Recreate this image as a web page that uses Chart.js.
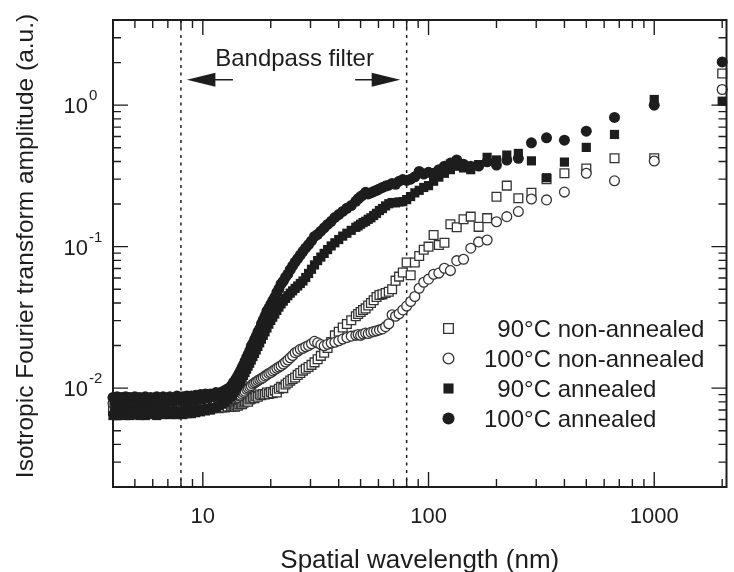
<!DOCTYPE html>
<html>
<head>
<meta charset="utf-8">
<script src="https://cdn.jsdelivr.net/npm/chart.js@4.4.1/dist/chart.umd.min.js"></script>
<style>
html,body{margin:0;padding:0;background:#fff;}
#wrap{width:734px;height:572px;position:relative;}
</style>
</head>
<body>
<div id="wrap"><canvas id="c" width="734" height="572"></canvas></div>
<script>
// ---------- data ----------
const wavelength = [
 4.00,4.08,4.17,4.26,4.35,4.44,4.55,4.65,4.76,4.88,5.00,5.13,5.26,5.41,5.56,5.71,5.88,6.06,6.25,6.45,6.67,6.90,7.14,7.41,7.69,8.00,
 8.16,8.33,8.51,8.70,8.89,9.09,9.30,9.52,9.76,10.0,10.26,10.53,10.81,11.11,11.43,11.76,12.12,12.50,12.90,13.33,
 13.51,13.70,13.89,14.08,14.29,14.49,14.71,14.93,15.15,15.38,15.63,15.87,16.13,16.39,16.67,16.95,17.24,17.54,17.86,18.18,18.52,18.87,19.23,19.61,20.00,20.41,20.83,21.28,21.74,22.22,22.73,23.26,23.81,24.39,25.00,
 25.64,26.32,27.03,27.78,28.57,29.41,30.30,31.25,32.26,33.33,34.48,35.71,37.04,38.46,40.00,41.67,43.48,45.45,47.62,
 48.78,50.00,51.28,52.63,54.05,55.56,57.14,58.82,60.61,62.50,64.52,66.67,68.97,71.43,74.07,76.92,80.00,83.33,86.96,90.91,95.24,
 100,105.3,111.1,117.6,125,133.3,142.9,153.8,166.7,181.8,200,222.2,250,285.7,333.3,400,500,666.7,1000,2000
];
const nonAnnealed90 = [
 0.0069,0.0070,0.0068,0.0070,0.0069,0.0071,0.0069,0.0070,0.0069,0.0070,0.0071,0.0069,0.0070,0.0070,0.0069,0.0071,0.0070,0.0070,0.0071,0.0070,0.0069,0.0071,0.0070,0.0071,0.0070,0.0071,
 0.0070,0.0071,0.0070,0.0071,0.0070,0.0071,0.0071,0.0070,0.0071,0.0071,0.0072,0.0071,0.0072,0.0072,0.0073,0.0072,0.0073,0.0073,0.0074,0.0074,
 0.0074,0.0075,0.0074,0.0076,0.0075,0.0077,0.0078,0.0077,0.0079,0.0080,0.0081,0.0080,0.0083,0.0084,0.0086,0.0085,0.0088,0.0087,0.0090,0.0089,0.0091,0.0090,0.0093,0.0091,0.0094,0.0092,0.0096,0.0093,0.0099,0.0102,0.0100,0.0106,0.0109,0.0113,0.0116,
 0.0119,0.0124,0.0128,0.0133,0.0137,0.0141,0.0146,0.0152,0.0160,0.0169,0.0178,0.0192,0.0212,0.0236,0.0250,0.0268,0.0284,0.0302,0.0322,
 0.0334,0.0345,0.0357,0.0366,0.0384,0.0400,0.0418,0.0440,0.0455,0.0460,0.0470,0.0480,0.0500,0.0575,0.0614,0.0656,0.0772,0.0627,0.0772,0.0860,0.0950,
 0.100,0.121,0.1028,0.1067,0.144,0.137,0.156,0.163,0.138,0.159,0.225,0.270,0.220,0.240,0.300,0.330,0.357,0.421,0.421,1.673
];
const nonAnnealed100 = [
 0.0078,0.0076,0.0077,0.0078,0.0076,0.0077,0.0078,0.0077,0.0076,0.0078,0.0077,0.0078,0.0076,0.0077,0.0078,0.0077,0.0078,0.0077,0.0076,0.0078,0.0077,0.0078,0.0077,0.0076,0.0078,0.0077,
 0.0077,0.0078,0.0077,0.0078,0.0077,0.0078,0.0078,0.0077,0.0078,0.0078,0.0079,0.0078,0.0079,0.0079,0.0080,0.0079,0.0080,0.0081,0.0080,0.0081,
 0.0082,0.0083,0.0084,0.0085,0.0086,0.0088,0.0089,0.0091,0.0093,0.0095,0.0098,0.0100,0.0102,0.0104,0.0107,0.0109,0.0111,0.0113,0.0115,0.0117,0.0119,0.0122,0.0124,0.0127,0.0129,0.0132,0.0135,0.0138,0.0141,0.0144,0.0148,0.0153,0.0158,0.0164,0.0170,
 0.0178,0.0182,0.0188,0.0191,0.0196,0.0200,0.0206,0.0214,0.0209,0.0203,0.0199,0.0204,0.0208,0.0211,0.0216,0.0222,0.0228,0.0233,0.0236,
 0.0239,0.0236,0.0241,0.0245,0.0243,0.0248,0.0251,0.0254,0.0258,0.0262,0.0272,0.0285,0.0330,0.0322,0.0335,0.0357,0.0380,0.0409,0.0444,0.0508,0.0560,
 0.0589,0.0638,0.0650,0.0704,0.0677,0.0796,0.0815,0.0975,0.108,0.1115,0.150,0.163,0.177,0.217,0.214,0.243,0.330,0.292,0.403,1.29
];
const annealed90 = [
 0.0064,0.0069,0.0064,0.0069,0.0065,0.0069,0.0064,0.0069,0.0064,0.0069,0.0065,0.0069,0.0064,0.0069,0.0064,0.0069,0.0065,0.0069,0.0064,0.0069,0.0065,0.0069,0.0065,0.0069,0.0065,0.0069,
 0.0065,0.0069,0.0066,0.0070,0.0066,0.0070,0.0067,0.0071,0.0068,0.0071,0.0069,0.0072,0.0070,0.0073,0.0073,0.0075,0.0077,0.0080,0.0083,0.0087,
 0.0089,0.0093,0.0096,0.0100,0.0104,0.0108,0.0112,0.0118,0.0123,0.0129,0.0136,0.0143,0.0150,0.0158,0.0167,0.0176,0.0186,0.0197,0.0209,0.0222,0.0236,0.0250,0.0266,0.0283,0.0301,0.0317,0.0334,0.0354,0.0374,0.0394,0.0412,0.0431,0.0450,0.0469,0.0487,
 0.0507,0.0527,0.0549,0.0572,0.0605,0.0646,0.0692,0.0743,0.0797,0.0844,0.0896,0.0953,0.1012,0.1065,0.1123,0.1187,0.1244,0.1304,0.1369,
 0.140,0.144,0.148,0.151,0.156,0.160,0.166,0.172,0.180,0.186,0.194,0.201,0.205,0.204,0.207,0.208,0.215,0.226,0.240,0.250,0.262,
 0.27,0.29,0.31,0.33,0.35,0.37,0.36,0.35,0.38,0.428,0.41,0.444,0.456,0.404,0.307,0.396,0.503,0.621,1.097,1.067
];
const annealed100 = [
 0.0086,0.0079,0.0087,0.0080,0.0086,0.0079,0.0087,0.0080,0.0086,0.0079,0.0087,0.0080,0.0086,0.0079,0.0087,0.0080,0.0086,0.0079,0.0087,0.0080,0.0087,0.0080,0.0087,0.0080,0.0088,0.0081,
 0.0087,0.0080,0.0088,0.0081,0.0088,0.0082,0.0089,0.0083,0.0090,0.0084,0.0091,0.0085,0.0091,0.0087,0.0093,0.0089,0.0094,0.0096,0.0099,0.0103,
 0.0106,0.0110,0.0113,0.0117,0.0122,0.0127,0.0133,0.0140,0.0146,0.0155,0.0164,0.0173,0.0183,0.0198,0.0207,0.0220,0.0233,0.0249,0.0262,0.0285,0.0304,0.0323,0.0350,0.0368,0.0390,0.0416,0.0438,0.0474,0.0505,0.0545,0.0570,0.0608,0.0640,0.0687,0.0732,
 0.0778,0.0824,0.0872,0.0926,0.0979,0.1035,0.1097,0.1180,0.1222,0.1287,0.1359,0.1435,0.1511,0.1610,0.1685,0.1774,0.1868,0.1950,0.2093,
 0.218,0.226,0.232,0.242,0.236,0.240,0.245,0.250,0.256,0.262,0.268,0.272,0.280,0.276,0.290,0.298,0.294,0.300,0.312,0.340,0.326,
 0.335,0.330,0.350,0.370,0.390,0.410,0.383,0.370,0.371,0.398,0.377,0.409,0.421,0.542,0.588,0.566,0.655,0.819,1.00,2.02
];
const seriesNames = ['90°C non-annealed', '100°C non-annealed', '90°C annealed', '100°C annealed'];
const xTickValues = [10, 100, 1000];
const xTickLabels = ['10', '100', '1000'];
const yTickValues = [0.01, 0.1, 1];
const yTickBase = ['10', '10', '10'];
const yTickExponents = ['-2', '-1', '0'];
const bandpassEdges = [8, 80];
const bandpassLabel = 'Bandpass filter';
const xTitle = 'Spatial wavelength (nm)';
const yTitle = 'Isotropic Fourier transform amplitude (a.u.)';

// ---------- styling ----------
const FONT = '"Liberation Sans", Arial, Helvetica, sans-serif';
const INK = '#1d1d1d';
const OPEN = '#333333';

const pts = arr => wavelength.map((x, i) => ({x: x, y: arr[i]}));

const markerStyles = [
  {pointStyle: 'rect',   pointRadius: 6.2, backgroundColor: '#ffffff', borderColor: OPEN, borderWidth: 1.3},
  {pointStyle: 'circle', pointRadius: 4.9, backgroundColor: '#ffffff', borderColor: OPEN, borderWidth: 1.3},
  {pointStyle: 'rect',   pointRadius: 6.5, backgroundColor: INK, borderColor: INK, borderWidth: 0},
  {pointStyle: 'circle', pointRadius: 5.5, backgroundColor: INK, borderColor: INK, borderWidth: 0}
];
const seriesData = [nonAnnealed90, nonAnnealed100, annealed90, annealed100];
const drawOrder = [3, 2, 1, 0];

const datasets = seriesData.map((arr, i) => Object.assign({
  label: seriesNames[i],
  data: pts(arr),
  showLine: false,
  order: drawOrder[i],
  clip: false,
  pointHoverRadius: markerStyles[i].pointRadius
}, markerStyles[i]));

function drawMarker(ctx, style, x, y, k) {
  ctx.save();
  ctx.fillStyle = style.backgroundColor;
  ctx.strokeStyle = style.borderColor;
  ctx.lineWidth = style.borderWidth || 0;
  ctx.beginPath();
  const r = style.pointRadius * k;
  if (style.pointStyle === 'rect') {
    const s = Math.SQRT1_2 * r;
    ctx.rect(x - s, y - s, 2 * s, 2 * s);
  } else {
    ctx.arc(x, y, r, 0, Math.PI * 2);
  }
  ctx.fill();
  if (style.borderWidth) ctx.stroke();
  ctx.restore();
}

const decor = {
  id: 'decor',
  beforeDatasetsDraw(chart) {
    const {ctx, chartArea: a, scales: {x}} = chart;
    ctx.save();
    ctx.strokeStyle = INK;
    ctx.lineWidth = 1.5;
    ctx.setLineDash([3, 4.5]);
    bandpassEdges.forEach(v => {
      const p = x.getPixelForValue(v);
      ctx.beginPath();
      ctx.moveTo(p, a.top);
      ctx.lineTo(p, a.bottom);
      ctx.stroke();
    });
    ctx.restore();
  },
  afterDatasetsDraw(chart) {
    const {ctx, chartArea: a, scales: {x, y}} = chart;
    ctx.save();
    // frame
    ctx.strokeStyle = INK;
    ctx.lineWidth = 2;
    ctx.strokeRect(a.left, a.top, a.right - a.left, a.bottom - a.top);
    // ticks
    ctx.lineWidth = 1.4;
    const xmin = x.min, xmax = x.max, ymin = y.min, ymax = y.max;
    for (let d = 1; d <= 1000; d *= 10) {
      for (let m = 1; m <= 9; m++) {
        const v = m * d;
        if (v < xmin || v > xmax) continue;
        const p = x.getPixelForValue(v);
        const len = m === 1 ? 15 : 8;
        ctx.beginPath();
        ctx.moveTo(p, a.bottom); ctx.lineTo(p, a.bottom - len);
        ctx.moveTo(p, a.top); ctx.lineTo(p, a.top + len);
        ctx.stroke();
      }
    }
    for (let d = 0.001; d <= 1.0001; d *= 10) {
      for (let m = 1; m <= 9; m++) {
        const v = m * d;
        if (v < ymin * 0.999 || v > ymax * 1.001) continue;
        const p = y.getPixelForValue(v);
        const len = m === 1 ? 15 : 8;
        ctx.beginPath();
        ctx.moveTo(a.left, p); ctx.lineTo(a.left + len, p);
        ctx.moveTo(a.right, p); ctx.lineTo(a.right - len, p);
        ctx.stroke();
      }
    }
    // tick labels
    ctx.fillStyle = INK;
    ctx.textBaseline = 'alphabetic';
    ctx.font = '22px ' + FONT;
    ctx.textAlign = 'center';
    xTickValues.forEach((v, i) => {
      ctx.fillText(xTickLabels[i], x.getPixelForValue(v), a.bottom + 36);
    });
    yTickValues.forEach((v, i) => {
      const p = y.getPixelForValue(v);
      ctx.font = '22px ' + FONT;
      ctx.textAlign = 'right';
      ctx.fillText(yTickBase[i], a.left - 25, p + 8);
      ctx.font = '15px ' + FONT;
      ctx.textAlign = 'left';
      ctx.fillText(yTickExponents[i], a.left - 24, p - 5);
    });
    // axis titles
    ctx.font = '26px ' + FONT;
    ctx.textAlign = 'center';
    ctx.fillText(xTitle, (a.left + a.right) / 2, 568);
    ctx.save();
    ctx.translate(33, 246);
    ctx.rotate(-Math.PI / 2);
    ctx.font = '24.5px ' + FONT;
    ctx.fillText(yTitle, 0, 0);
    ctx.restore();
    // bandpass annotation
    ctx.font = '24px ' + FONT;
    ctx.textAlign = 'center';
    const yLab = y.getPixelForValue(1.88);
    ctx.fillText(bandpassLabel, x.getPixelForValue(25.5), yLab);
    const yArr = y.getPixelForValue(1.51);
    const lTip = x.getPixelForValue(8.5), lTail = x.getPixelForValue(13.6);
    const rTip = x.getPixelForValue(74.9), rTail = x.getPixelForValue(47.3);
    ctx.lineWidth = 1.5;
    ctx.strokeStyle = INK;
    ctx.beginPath();
    ctx.moveTo(lTip + 20, yArr); ctx.lineTo(lTail, yArr);
    ctx.moveTo(rTip - 20, yArr); ctx.lineTo(rTail, yArr);
    ctx.stroke();
    ctx.beginPath();
    ctx.moveTo(lTip, yArr); ctx.lineTo(lTip + 28.5, yArr - 7); ctx.lineTo(lTip + 28.5, yArr + 7); ctx.closePath();
    ctx.moveTo(rTip, yArr); ctx.lineTo(rTip - 28.5, yArr - 7); ctx.lineTo(rTip - 28.5, yArr + 7); ctx.closePath();
    ctx.fill();
    // legend
    ctx.font = '24px ' + FONT;
    ctx.textAlign = 'left';
    const digitW = ctx.measureText('0').width;
    const lx = 448.5, tx = 484, ly0 = 328.5, dy = 30;
    seriesNames.forEach((name, i) => {
      const yy = ly0 + dy * i;
      drawMarker(ctx, markerStyles[i], lx, yy, 1.1);
      const off = name.startsWith('90') ? digitW : 0;
      ctx.fillStyle = INK;
      ctx.fillText(name, tx + off, yy + 8.5);
    });
    ctx.restore();
  }
};

new Chart(document.getElementById('c'), {
  type: 'scatter',
  data: {datasets: datasets},
  options: {
    responsive: false,
    animation: false,
    devicePixelRatio: 1,
    layout: {padding: {top: 20, right: 1.5, left: 0, bottom: 0}},
    plugins: {legend: {display: false}, tooltip: {enabled: false}},
    scales: {
      x: {
        type: 'logarithmic', min: 4, max: 2090,
        grid: {display: false}, border: {display: false},
        ticks: {display: false},
        afterFit(s) { s.height = 85; }
      },
      y: {
        type: 'logarithmic', min: 0.002, max: 4,
        grid: {display: false}, border: {display: false},
        ticks: {display: false},
        afterFit(s) { s.width = 113; }
      }
    }
  },
  plugins: [decor]
});
</script>
</body>
</html>
